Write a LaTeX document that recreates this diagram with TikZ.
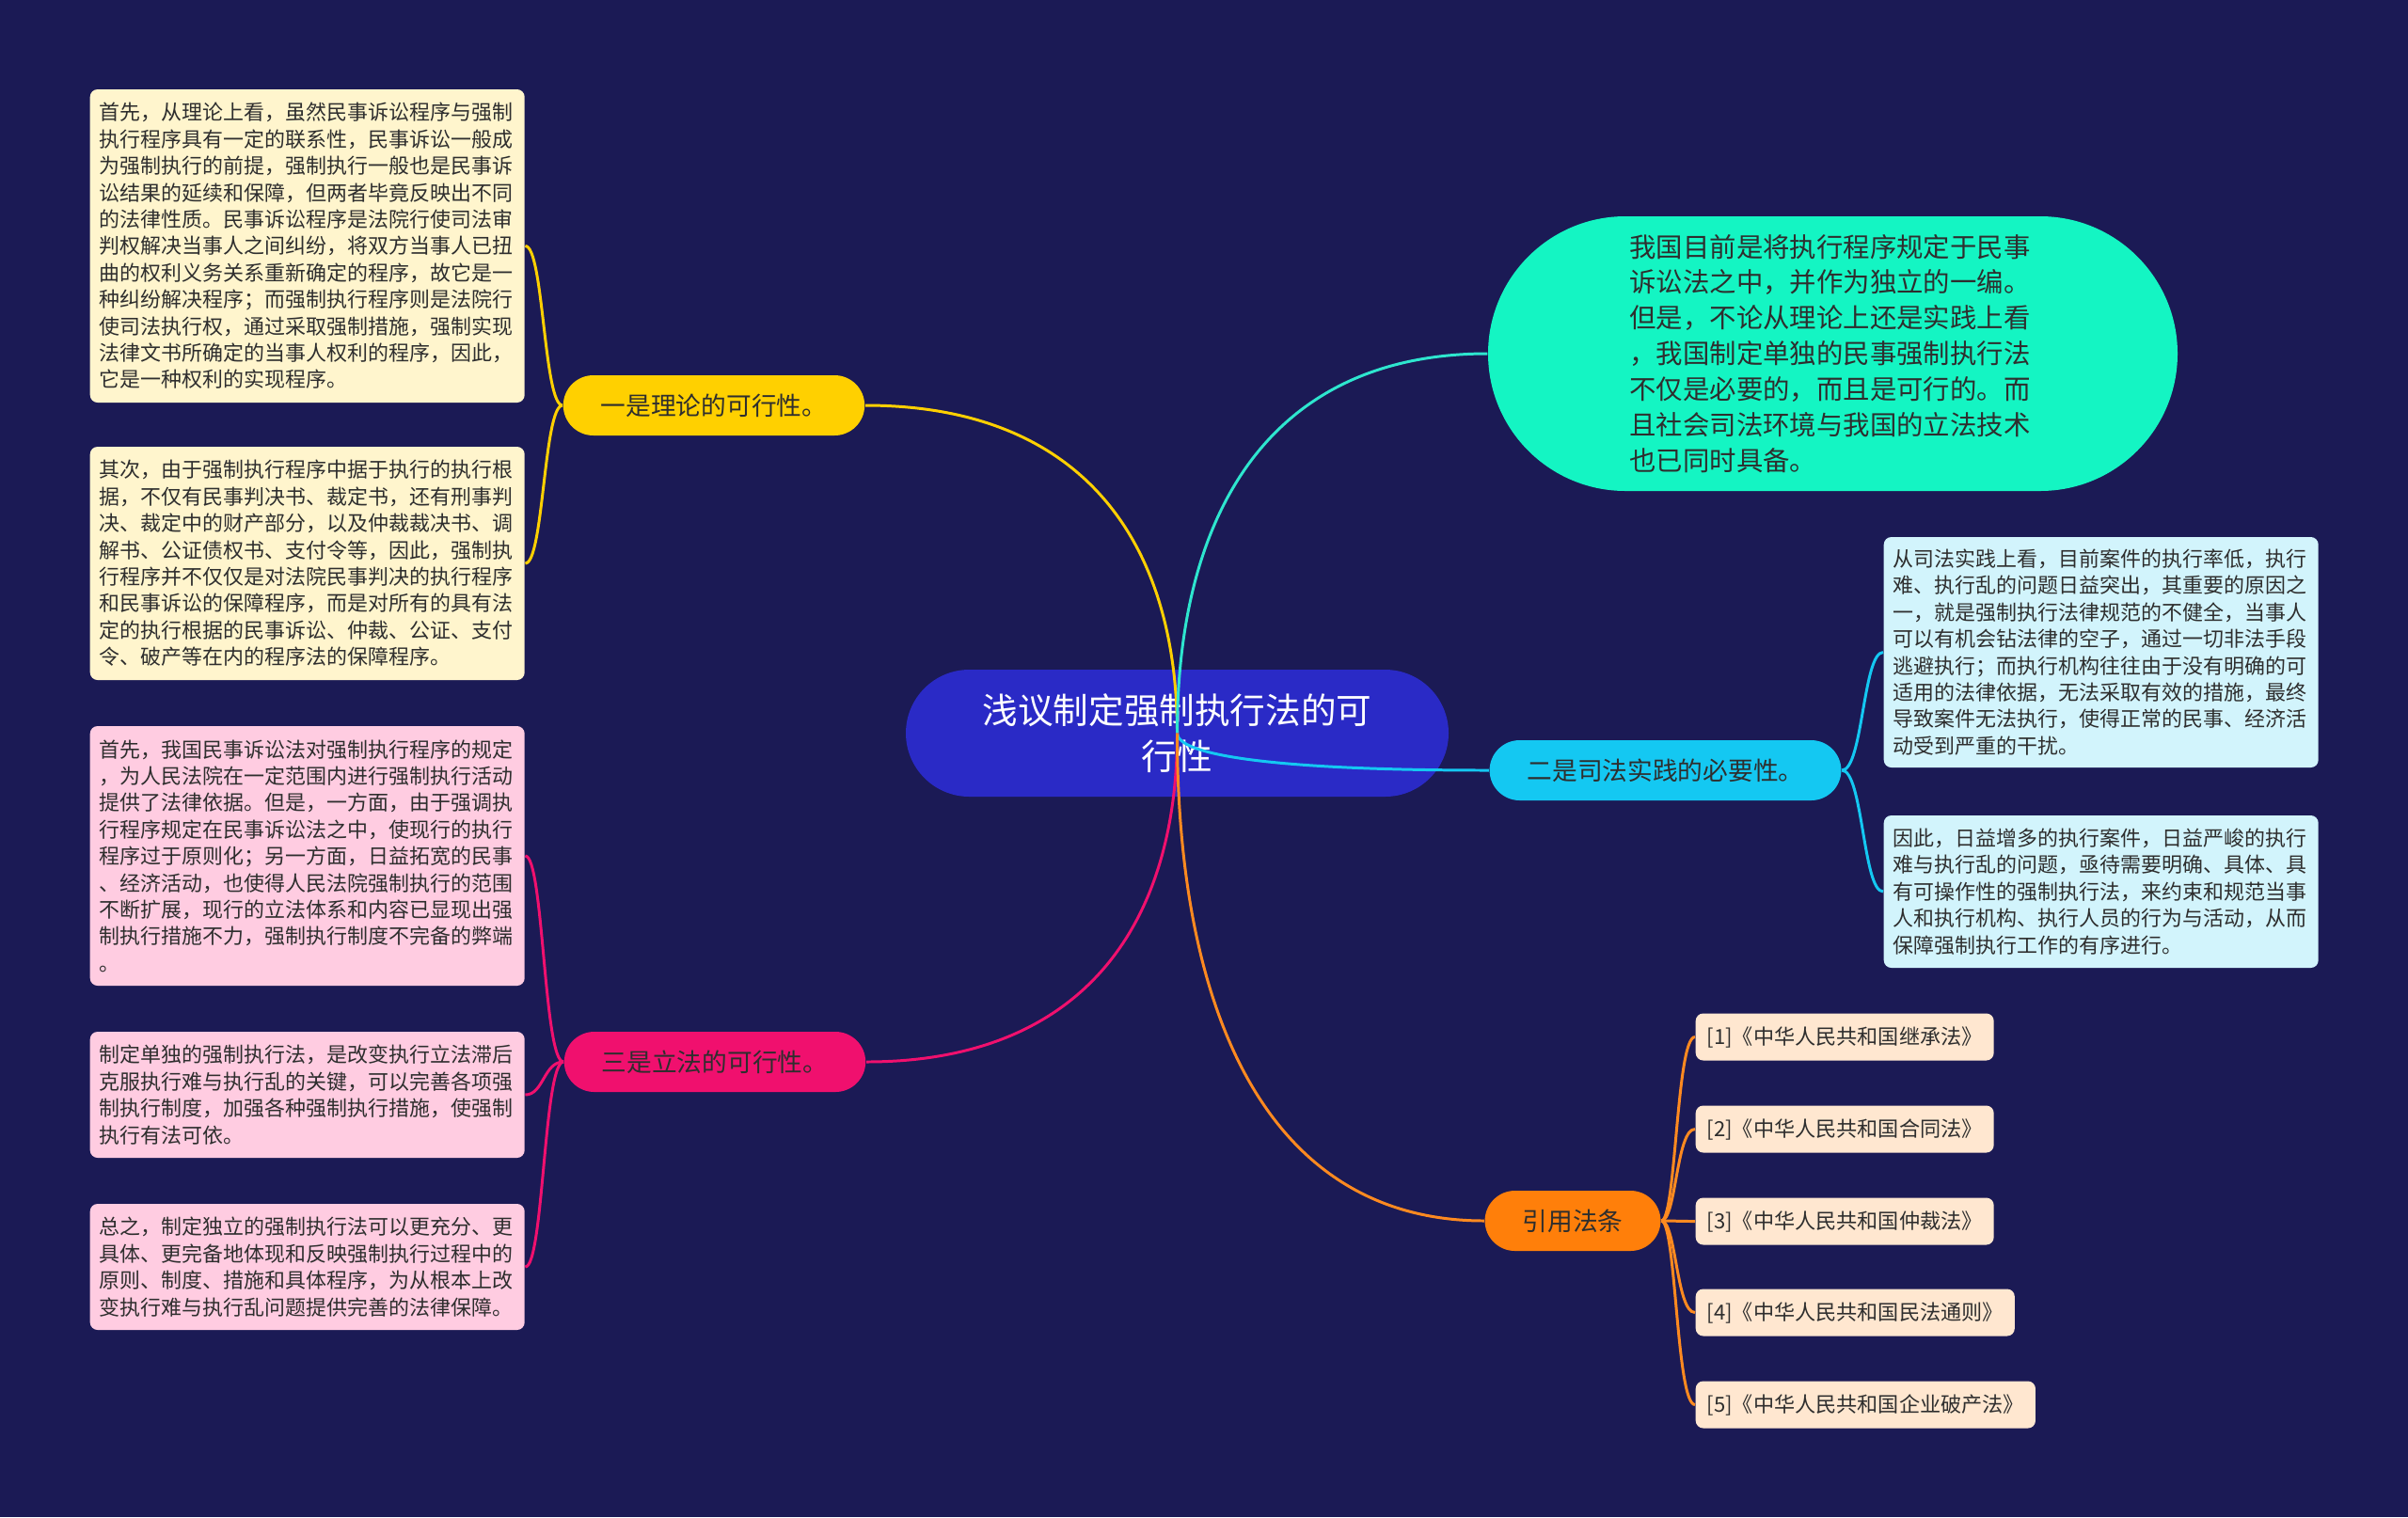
\documentclass[tikz,border=0pt]{standalone}
\usepackage{fontspec}
\setmainfont{Noto Sans CJK SC}
\usetikzlibrary{calc}

\definecolor{bgnavy}{HTML}{1B1A55}
\definecolor{rootblue}{HTML}{2A2AC6}
\definecolor{inkdark}{HTML}{2E2E2E}
\definecolor{yelpill}{HTML}{FFD000}
\definecolor{yelleaf}{HTML}{FFF5CD}
\definecolor{pinkpill}{HTML}{F0106E}
\definecolor{pinkleaf}{HTML}{FFCCE1}
\definecolor{tealnode}{HTML}{14F5C3}
\definecolor{tealline}{HTML}{2EE6CF}
\definecolor{cyanpill}{HTML}{14C8F2}
\definecolor{cyanleaf}{HTML}{D2F4FC}
\definecolor{orangepill}{HTML}{FF7F0A}
\definecolor{orangeline}{HTML}{FF8A20}
\definecolor{refleaf}{HTML}{FFE7D0}

\tikzset{
  rootbox/.style={fill=rootblue, text=white, align=center,
    minimum width=5.77cm, minimum height=1.35cm, rounded corners=0.675cm,
    font=\fontsize{10.7}{13.9}\selectfont},
  pillbox/.style={rounded corners=0.32cm, minimum height=0.64cm,
    inner xsep=0.4cm, inner ysep=0pt, text=inkdark,
    font=\fontsize{7.6}{9}\selectfont},
  greenbox/.style={fill=tealnode, text=inkdark, align=left, text width=4.32cm,
    minimum width=7.33cm, minimum height=2.92cm, rounded corners=1.46cm,
    font=\fontsize{8.08}{10.8}\selectfont},
  leafbox/.style={rounded corners=0.08cm, anchor=west, align=left,
    text width=4.42cm, inner xsep=0.1cm, inner ysep=0.05cm, text=inkdark,
    font=\fontsize{6.25}{8.08}\selectfont},
  refbox/.style={rounded corners=0.08cm, fill=refleaf, anchor=west,
    minimum height=0.5cm, inner xsep=0.12cm, inner ysep=0pt, text=inkdark,
    font=\fontsize{6.3}{8}\selectfont},
  link/.style={line width=0.85pt},
}

\begin{document}
\begin{tikzpicture}

%% canvas 2560 x 1613 px, 1 cm = 100 px
\fill[bgnavy] (0,0) rectangle (25.6,-16.13);

%% root and main branches
\node[rootbox] (root) at (12.515,-7.795) {浅议制定强制执行法的可\\行性};
\node[pillbox, fill=yelpill]    (theory)   at (7.59,-4.31)   {一是理论的可行性。};
\node[pillbox, fill=pinkpill]   (legis)    at (7.60,-11.29)  {三是立法的可行性。};
\node[pillbox, fill=cyanpill]   (practice) at (17.705,-8.19) {二是司法实践的必要性。};
\node[pillbox, fill=orangepill] (refs)     at (16.72,-12.98) {引用法条};
\node[greenbox] (status) at (19.485,-3.76)
  {我国目前是将执行程序规定于民事\\诉讼法之中，并作为独立的一编。\\但是，不论从理论上还是实践上看\\，我国制定单独的民事强制执行法\\不仅是必要的，而且是可行的。而\\且社会司法环境与我国的立法技术\\也已同时具备。};

%% left leaves: theory
\node[leafbox, fill=yelleaf, minimum height=3.33cm] (theoryA) at (0.95,-2.615)
  {首先，从理论上看，虽然民事诉讼程序与强制\\执行程序具有一定的联系性，民事诉讼一般成\\为强制执行的前提，强制执行一般也是民事诉\\讼结果的延续和保障，但两者毕竟反映出不同\\的法律性质。民事诉讼程序是法院行使司法审\\判权解决当事人之间纠纷，将双方当事人已扭\\曲的权利义务关系重新确定的程序，故它是一\\种纠纷解决程序；而强制执行程序则是法院行\\使司法执行权，通过采取强制措施，强制实现\\法律文书所确定的当事人权利的程序，因此，\\它是一种权利的实现程序。};
\node[leafbox, fill=yelleaf, minimum height=2.48cm] (theoryB) at (0.95,-5.99)
  {其次，由于强制执行程序中据于执行的执行根\\据，不仅有民事判决书、裁定书，还有刑事判\\决、裁定中的财产部分，以及仲裁裁决书、调\\解书、公证债权书、支付令等，因此，强制执\\行程序并不仅仅是对法院民事判决的执行程序\\和民事诉讼的保障程序，而是对所有的具有法\\定的执行根据的民事诉讼、仲裁、公证、支付\\令、破产等在内的程序法的保障程序。};

%% left leaves: legislation
\node[leafbox, fill=pinkleaf, minimum height=2.76cm] (legisA) at (0.95,-9.10)
  {首先，我国民事诉讼法对强制执行程序的规定\\，为人民法院在一定范围内进行强制执行活动\\提供了法律依据。但是，一方面，由于强调执\\行程序规定在民事诉讼法之中，使现行的执行\\程序过于原则化；另一方面，日益拓宽的民事\\、经济活动，也使得人民法院强制执行的范围\\不断扩展，现行的立法体系和内容已显现出强\\制执行措施不力，强制执行制度不完备的弊端\\。};
\node[leafbox, fill=pinkleaf, minimum height=1.34cm] (legisB) at (0.95,-11.64)
  {制定单独的强制执行法，是改变执行立法滞后\\克服执行难与执行乱的关键，可以完善各项强\\制执行制度，加强各种强制执行措施，使强制\\执行有法可依。};
\node[leafbox, fill=pinkleaf, minimum height=1.34cm] (legisC) at (0.95,-13.47)
  {总之，制定独立的强制执行法可以更充分、更\\具体、更完备地体现和反映强制执行过程中的\\原则、制度、措施和具体程序，为从根本上改\\变执行难与执行乱问题提供完善的法律保障。};

%% right leaves: practice
\node[leafbox, fill=cyanleaf, minimum height=2.45cm] (practiceA) at (20.02,-6.935)
  {从司法实践上看，目前案件的执行率低，执行\\难、执行乱的问题日益突出，其重要的原因之\\一，就是强制执行法律规范的不健全，当事人\\可以有机会钻法律的空子，通过一切非法手段\\逃避执行；而执行机构往往由于没有明确的可\\适用的法律依据，无法采取有效的措施，最终\\导致案件无法执行，使得正常的民事、经济活\\动受到严重的干扰。};
\node[leafbox, fill=cyanleaf, minimum height=1.62cm] (practiceB) at (20.02,-9.48)
  {因此，日益增多的执行案件，日益严峻的执行\\难与执行乱的问题，亟待需要明确、具体、具\\有可操作性的强制执行法，来约束和规范当事\\人和执行机构、执行人员的行为与活动，从而\\保障强制执行工作的有序进行。};

%% cited laws
\foreach \i/\y/\law in {1/11.025/继承法, 2/12.005/合同法, 3/12.985/仲裁法,
                        4/13.955/民法通则, 5/14.935/企业破产法}
  \node[refbox] (ref\i) at (18.02,-\y) {[\i]《中华人民共和国\law》};

%% bracket spines
\coordinate (lspine) at (5.78,0);
\coordinate (cspine) at (19.805,0);
\coordinate (ospine) at (17.82,0);

\foreach \n in {theoryA, theoryB}
  \draw[link, yelpill] (theory.west) .. controls (lspine |- theory.west) and (lspine |- \n.east) .. (\n.east);
\foreach \n in {legisA, legisB, legisC}
  \draw[link, pinkpill] (legis.west) .. controls (lspine |- legis.west) and (lspine |- \n.east) .. (\n.east);
\foreach \n in {practiceA, practiceB}
  \draw[link, cyanpill] (practice.east) .. controls (cspine |- practice.east) and (cspine |- \n.west) .. (\n.west);
\foreach \n in {ref1, ref2, ref3, ref4, ref5}
  \draw[link, orangeline] (refs.east) .. controls (ospine |- refs.east) and (ospine |- \n.west) .. (\n.west);

%% hub curves
\foreach \t/\a/\c in {theory/east/yelpill, status/west/tealline, practice/west/cyanpill,
                      legis/east/pinkpill, refs/west/orangeline}
  \draw[link, \c] (root.center)
    .. controls ($(root.center)!0.58!(root.center |- \t.\a)$)
            and ($(\t.\a)!0.7!(root.center |- \t.\a)$) .. (\t.\a);

\end{tikzpicture}
\end{document}
